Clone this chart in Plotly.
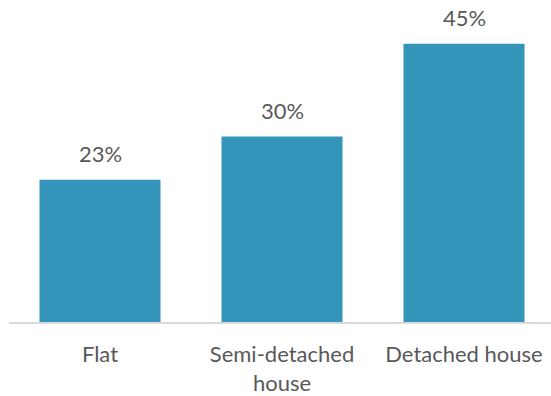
import plotly.graph_objects as go

categories = ["Flat", "Semi-detached<br>house", "Detached house"]
values = [23, 30, 45]
labels = ["23%", "30%", "45%"]

bar_color = "#3494BA"
text_color = "#595959"
font_family = "Lato, 'Open Sans', sans-serif"

fig = go.Figure(go.Bar(x=categories, y=values, marker_color=bar_color,
                       marker_line_width=0, hoverinfo="skip"))

for c, v, t in zip(categories, values, labels):
    fig.add_annotation(x=c, y=v, text=t, showarrow=False, yanchor="middle",
                       yshift=26, font=dict(size=22, color=text_color, family=font_family))

fig.update_layout(
    width=555, height=396,
    margin=dict(l=9, r=0, t=0, b=72),
    paper_bgcolor="white", plot_bgcolor="white",
    bargap=0.335, showlegend=False,
    font=dict(family=font_family, size=22, color=text_color),
)
fig.update_xaxes(showline=True, linecolor="#D9D9D9", linewidth=2,
                 ticks="outside", ticklen=12, tickcolor="rgba(0,0,0,0)",
                 tickfont=dict(size=22, color=text_color), showgrid=False)
fig.update_yaxes(visible=False, range=[0, 52.07], showgrid=False, zeroline=False)

fig.write_html("out.html", config={"displayModeBar": False},
               post_script="document.body.style.margin='0';document.body.style.overflow='hidden';")
